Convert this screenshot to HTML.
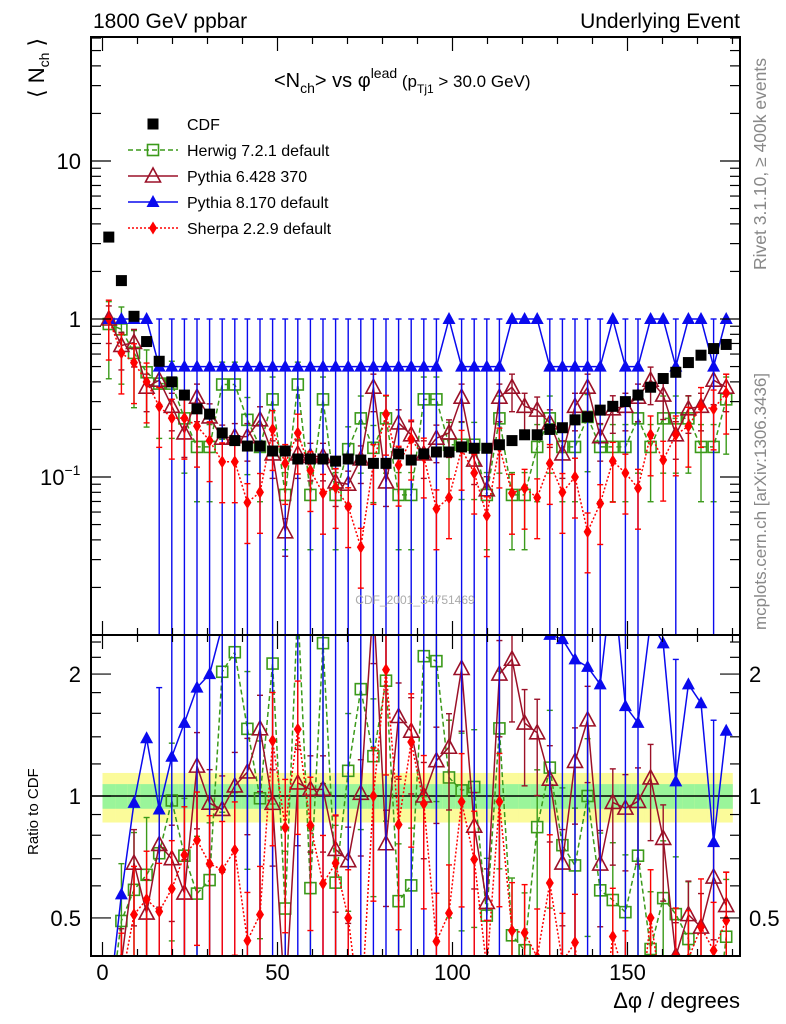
<!DOCTYPE html>
<html><head><meta charset="utf-8"><style>
html,body{margin:0;background:#fff;overflow:hidden;width:786px;height:1024px;}
svg{display:block;font-family:"Liberation Sans",sans-serif;}
</style></head><body>
<svg id="c" width="786" height="1024" viewBox="0 0 786 1024">
<defs>
<clipPath id="cm"><rect x="91" y="37" width="649" height="598"/></clipPath>
<clipPath id="cr"><rect x="91" y="635" width="649" height="321"/></clipPath>
</defs>
<g id="bands"></g>
<g id="main" clip-path="url(#cm)"></g>
<g id="ratio" clip-path="url(#cr)"></g>
<g id="axes"></g>
<text x="93" y="28" font-size="21">1800 GeV ppbar</text>
<text x="740" y="28" font-size="21" text-anchor="end">Underlying Event</text>
<text x="274" y="87" font-size="20">&lt;N<tspan font-size="14" dy="6">ch</tspan><tspan dy="-6">&gt; vs φ</tspan><tspan font-size="14" dy="-9">lead</tspan><tspan font-size="17" dy="9"> (p</tspan><tspan font-size="12" dy="6">Tj1</tspan><tspan font-size="17" dy="-6"> &gt; 30.0 GeV)</tspan></text>
<text transform="translate(44,98) rotate(-90)" font-size="22">⟨ N<tspan font-size="14" dy="5">ch</tspan><tspan dy="-5"> ⟩</tspan></text>
<text transform="translate(38,855) rotate(-90)" font-size="15">Ratio to CDF</text>
<text x="740" y="1008" font-size="22" text-anchor="end">Δφ / degrees</text>
<text transform="translate(766,270) rotate(-90)" font-size="17.5" fill="#888">Rivet 3.1.10, ≥ 400k events</text>
<text transform="translate(766,630) rotate(-90)" font-size="17" fill="#888">mcplots.cern.ch [arXiv:1306.3436]</text>
<text x="415" y="604" font-size="12" fill="#aaa" text-anchor="middle">CDF_2001_S4751469</text>
<g id="legend"></g>
</svg>
<script>
const cdf=[3.3,1.75,1.04,0.72,0.54,0.40,0.33,0.27,0.25,0.19,0.17,0.157,0.157,0.146,0.146,0.13,0.13,0.13,0.126,0.13,0.128,0.122,0.122,0.14,0.128,0.14,0.144,0.144,0.155,0.152,0.152,0.16,0.17,0.185,0.185,0.2,0.205,0.23,0.24,0.265,0.28,0.30,0.33,0.37,0.42,0.46,0.53,0.59,0.65,0.69];
const herwig=[0.93,0.86,0.61,0.46,0.39,0.39,0.235,0.155,0.155,0.385,0.385,0.23,0.155,0.31,0.077,0.385,0.077,0.31,0.077,0.15,0.235,0.153,0.235,0.077,0.077,0.31,0.31,0.16,0.16,0.16,0.077,0.235,0.077,0.077,0.155,0.235,0.155,0.155,0.24,0.155,0.155,0.155,0.235,0.155,0.235,0.235,0.235,0.155,0.155,0.31];
const pythia6=[1.0,0.68,0.71,0.37,0.41,0.28,0.19,0.32,0.24,0.176,0.18,0.18,0.23,0.14,0.045,0.14,0.135,0.135,0.093,0.09,0.13,0.37,0.093,0.22,0.185,0.14,0.176,0.19,0.32,0.128,0.083,0.32,0.37,0.28,0.265,0.22,0.14,0.28,0.37,0.18,0.27,0.28,0.32,0.41,0.33,0.185,0.27,0.28,0.41,0.37];
const pythia8=[1,1,1,1,0.5,0.5,0.5,0.5,0.5,0.5,0.5,0.5,0.5,0.5,0.5,0.5,0.5,0.5,0.5,0.5,0.5,0.5,0.5,0.5,0.5,0.5,0.5,1,0.5,0.5,0.5,0.5,1,1,1,0.5,0.5,0.5,0.5,0.5,1,0.5,0.5,1,1,0.5,1,1,0.5,1];
const sherpa=[1.0,0.61,0.53,0.40,0.28,0.236,0.236,0.21,0.17,0.125,0.125,0.069,0.08,0.2,0.122,0.19,0.11,0.079,0.086,0.065,0.036,0.122,0.25,0.119,0.174,0.134,0.063,0.074,0.15,0.106,0.057,0.155,0.079,0.085,0.074,0.122,0.08,0.1,0.045,0.068,0.126,0.106,0.085,0.185,0.128,0.185,0.21,0.28,0.27,0.34];
const relErr={herwig:0.55,pythia6:0.3,sherpa:0.45};
const bandInner=0.07, bandOuter=0.14;
const xTicks=[0,50,100,150];
const binW=3.6;

const NS="http://www.w3.org/2000/svg";
const X=d=>102.5+3.5*d;
const Ym=v=>319-158*Math.log10(v);
const Yr=v=>796-405*Math.log10(v);
const cx=i=>X(binW*(i+0.5));
function mk(tag,attrs,parent){const e=document.createElementNS(NS,tag);for(const k in attrs)e.setAttribute(k,attrs[k]);parent.appendChild(e);return e;}
const main=document.getElementById('main'),ratio=document.getElementById('ratio'),axes=document.getElementById('axes'),bands=document.getElementById('bands'),legend=document.getElementById('legend');

function marker(type,x,y,color,g){
 let e;
 if(type==='sqf'){e=mk('rect',{x:x-5.5,y:y-5.5,width:11,height:11,fill:'#000'},g);}
 else if(type==='sqo'){e=mk('rect',{x:x-5.5,y:y-5.5,width:11,height:11,fill:'#fff','fill-opacity':0,stroke:color,'stroke-width':1.6},g);}
 else if(type==='tro'){e=mk('polygon',{points:`${x},${y-8} ${x-7.5},${y+6} ${x+7.5},${y+6}`,fill:'none',stroke:color,'stroke-width':1.6},g);}
 else if(type==='trf'){e=mk('polygon',{points:`${x},${y-7} ${x-6.5},${y+5} ${x+6.5},${y+5}`,fill:color},g);}
 else {e=mk('polygon',{points:`${x},${y-6.5} ${x-4},${y} ${x},${y+6.5} ${x+4},${y}`,fill:color},g);}
 return e;
}
function errbar(x,y1,y2,color,g){
 const e=mk('line',{x1:x,x2:x,y1:y1,y2:y2,stroke:color,'stroke-width':1.4},g);
 mk('line',{x1:x-3,x2:x+3,y1:y1,y2:y1,stroke:color,'stroke-width':1.4},g);
 mk('line',{x1:x-3,x2:x+3,y1:y2,y2:y2,stroke:color,'stroke-width':1.4},g);
 return e;
}
const series=[
 {name:'herwig',vals:herwig,color:'#3b9a1a',dash:'5,3',m:'sqo',re:relErr.herwig},
 {name:'pythia6',vals:pythia6,color:'#9b1128',dash:'',m:'tro',re:relErr.pythia6},
 {name:'pythia8',vals:pythia8,color:'#0a0aee',dash:'',m:'trf',re:null},
 {name:'sherpa',vals:sherpa,color:'#ff0000',dash:'2,2',m:'dia',re:relErr.sherpa}
];
for(let i=0;i<cdf.length;i++){
 const x0=X(binW*i),w=3.5*binW+0.3;
 const b1=mk('rect',{x:x0,y:Yr(1+bandOuter),width:w,height:Yr(1-bandOuter)-Yr(1+bandOuter),fill:'#fbfb9a'},bands);
 
 
 const b2=mk('rect',{x:x0,y:Yr(1+bandInner),width:w,height:Yr(1-bandInner)-Yr(1+bandInner),fill:'#9af59a'},bands);
 
 
}
mk('line',{x1:91,x2:740,y1:Yr(1),y2:Yr(1),stroke:'#000','stroke-width':1.5},ratio);
series.forEach(s=>{
 const gm=mk('g',{},main),gr=mk('g',{},ratio);
 
 
 
 
 const pm=[],pr=[];
 s.vals.forEach((v,i)=>{
  const x=cx(i);
  let lo,hi;
  if(s.re===null){ if(v<0.9){lo=v*0.02;hi=v*2;} else {lo=v;hi=v;} }
  else {lo=Math.max(v*(1-s.re),v*0.02);hi=v*(1+s.re*0.7);}
  if(hi>lo){const e=errbar(x,Ym(hi),Ym(lo),s.color,gm);
   
   
   const r=cdf[i];const e2=errbar(x,Yr(hi/r),Yr(lo/r),s.color,gr);
   
   }
  pm.push(x+','+Ym(v));pr.push(x+','+Yr(v/cdf[i]));
 });
 const l1=mk('polyline',{points:pm.join(' '),fill:'none',stroke:s.color,'stroke-width':1.5,'stroke-dasharray':s.dash},gm);
 
 
 const l2=mk('polyline',{points:pr.join(' '),fill:'none',stroke:s.color,'stroke-width':1.5,'stroke-dasharray':s.dash},gr);
 
 
 s.vals.forEach((v,i)=>{
  const m1=marker(s.m,cx(i),Ym(v),s.color,gm);
  
  
  const m2=marker(s.m,cx(i),Yr(v/cdf[i]),s.color,gr);
  
  
 });
});
cdf.forEach((v,i)=>{
 const m=marker('sqf',cx(i),Ym(v),'#000',main);
 
 
});
[[91,37,649,598],[91,635,649,321]].forEach(f=>{
 const r=mk('rect',{x:f[0],y:f[1],width:f[2],height:f[3],fill:'none',stroke:'#000','stroke-width':2},axes);
 
 
});
for(let d=0;d<=180;d+=10){
 const x=X(d),maj=d%50===0,L=maj?14:7;
 [[37,1],[635,-1],[635,1],[956,-1]].forEach(([y,s])=>mk('line',{x1:x,x2:x,y1:y,y2:y+s*L,stroke:'#000','stroke-width':1.2},axes));
}
xTicks.forEach(t=>{const e=mk('text',{x:X(t),y:980,'font-size':22,'text-anchor':'middle'},axes);e.textContent=t;
 
 });
for(let dec=-2;dec<=1;dec++){for(let k=1;k<=9;k++){const v=k*Math.pow(10,dec),y=Ym(v);if(y<38||y>634)continue;const L=k===1?20:10;
 mk('line',{x1:91,x2:91+L,y1:y,y2:y,stroke:'#000','stroke-width':1.2},axes);
 mk('line',{x1:740,x2:740-L,y1:y,y2:y,stroke:'#000','stroke-width':1.2},axes);}}
[['10',Ym(10)],['1',Ym(1)]].forEach(([t,y])=>{const e=mk('text',{x:81,y:y+8,'font-size':22,'text-anchor':'end'},axes);e.textContent=t;
 
 });
{const e=mk('text',{x:40,y:Ym(0.1)+8,'font-size':22},axes);e.innerHTML='10<tspan font-size="14" dy="-10">−1</tspan>';
 
 }
[0.5,0.6,0.7,0.8,0.9,1,1.2,1.4,1.6,1.8,2,2.2,2.4].forEach(v=>{const y=Yr(v),L=(v===0.5||v===1||v===2)?20:10;
 mk('line',{x1:91,x2:91+L,y1:y,y2:y,stroke:'#000','stroke-width':1.2},axes);
 mk('line',{x1:740,x2:740-L,y1:y,y2:y,stroke:'#000','stroke-width':1.2},axes);});
[['2',2],['1',1],['0.5',0.5]].forEach(([t,v])=>{
 const e=mk('text',{x:81,y:Yr(v)+8,'font-size':22,'text-anchor':'end'},axes);e.textContent=t;
 
 
 const e2=mk('text',{x:749,y:Yr(v)+8,'font-size':22},axes);e2.textContent=t;
 
 });
const legItems=[['CDF','sqf','#000',''],['Herwig 7.2.1 default','sqo','#3b9a1a','5,3'],['Pythia 6.428 370','tro','#9b1128',''],['Pythia 8.170 default','trf','#0a0aee',''],['Sherpa 2.2.9 default','dia','#ff0000','2,2']];
legItems.forEach((it,i)=>{const y=124+26*i;const g=mk('g',{},legend);
 
 
 if(i>0)mk('line',{x1:128,x2:178,y1:y,y2:y,stroke:it[2],'stroke-width':1.5,'stroke-dasharray':it[3]},g);
 marker(it[1],153,y,it[2],g);
 const t=mk('text',{x:187,y:y+6,'font-size':16},g);t.textContent=it[0];});
</script>
</body></html>
